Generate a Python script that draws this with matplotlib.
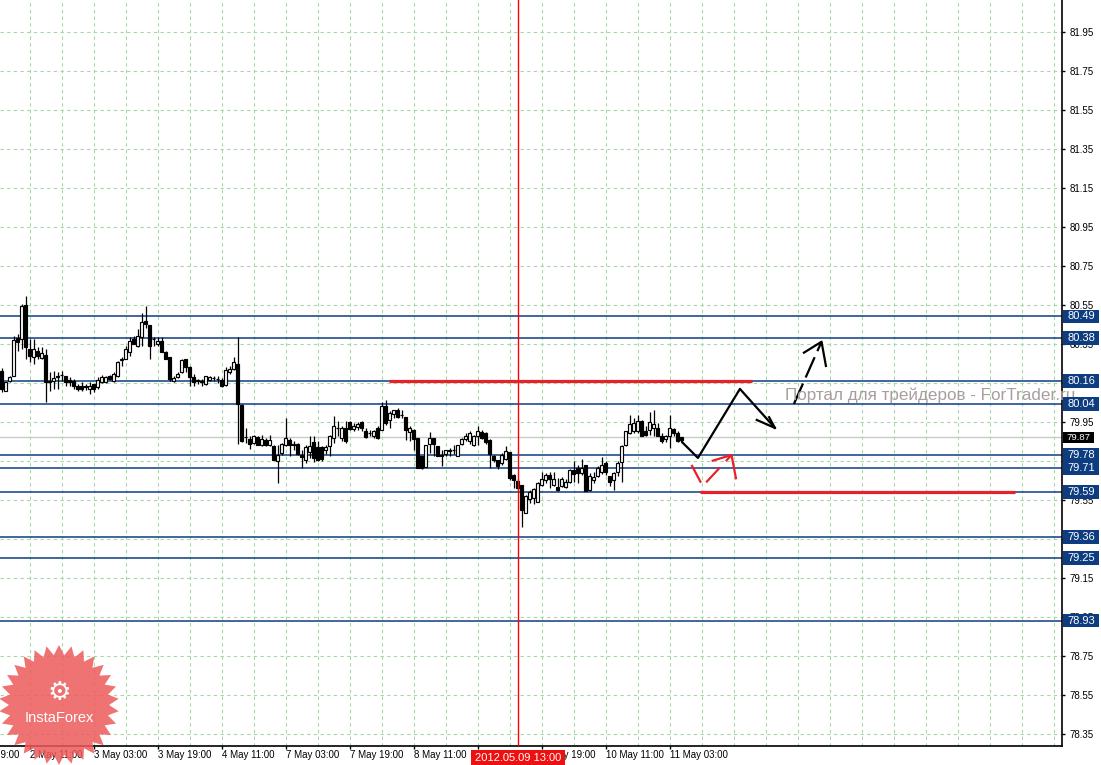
import numpy as np
import matplotlib.pyplot as plt
import matplotlib.transforms as mtransforms
from matplotlib.patches import Polygon, Rectangle

# ---- data (H1 bars, index 0 = 2 May 11:00) ----
first_bar = -7
opens = [
    80.211, 80.108, 80.160, 80.182, 80.377, 80.374, 80.548,
    80.322, 80.280, 80.314, 80.276, 80.292, 80.160, 80.160, 80.182, 80.189, 80.182,
    80.165, 80.160, 80.134, 80.134, 80.131, 80.120, 80.143, 80.126, 80.151, 80.155,
    80.185, 80.160, 80.182, 80.268, 80.274, 80.309, 80.374, 80.339, 80.382, 80.468,
    80.445, 80.376, 80.348, 80.365, 80.305, 80.280, 80.160, 80.177, 80.203, 80.274,
    80.233, 80.177, 80.162, 80.157, 80.143, 80.165, 80.174, 80.170, 80.165, 80.138,
    80.203, 80.220, 80.245, 80.035, 79.871, 79.860, 79.843, 79.869, 79.832, 79.857,
    79.832, 79.823, 79.746, 79.789, 79.832, 79.857, 79.833, 79.837, 79.780, 79.755,
    79.797, 79.844, 79.820, 79.820, 79.806, 79.823, 79.866, 79.918, 79.866, 79.917,
    79.946, 79.912, 79.922, 79.946, 79.900, 79.892, 79.874, 79.917, 79.909, 80.028,
    79.960, 79.991, 80.008, 79.986, 79.973, 79.895, 79.909, 79.866, 79.775, 79.717,
    79.837, 79.866, 79.823, 79.780, 79.785, 79.804, 79.807, 79.775, 79.837, 79.861,
    79.849, 79.832, 79.878, 79.895, 79.891, 79.857, 79.775, 79.751, 79.737, 79.758,
    79.792, 79.677, 79.645, 79.626, 79.484, 79.552, 79.558, 79.540, 79.626, 79.652,
    79.677, 79.626, 79.617, 79.621, 79.614, 79.643, 79.703, 79.712, 79.686, 79.729,
    79.600, 79.652, 79.669, 79.694, 79.737, 79.669, 79.652, 79.694, 79.741, 79.831,
    79.894, 79.900, 79.900, 79.956, 79.900, 79.908, 79.917, 79.917, 79.877, 79.860,
    79.877, 79.912, 79.894, 79.855,
]
highs = [
    80.223, 80.155, 80.182, 80.391, 80.399, 80.553, 80.596,
    80.374, 80.374, 80.331, 80.331, 80.322, 80.203, 80.211, 80.203, 80.211, 80.182,
    80.177, 80.168, 80.143, 80.151, 80.143, 80.155, 80.143, 80.177, 80.189, 80.182,
    80.189, 80.203, 80.262, 80.280, 80.339, 80.382, 80.391, 80.425, 80.510, 80.545,
    80.445, 80.382, 80.382, 80.382, 80.314, 80.280, 80.182, 80.203, 80.271, 80.274,
    80.237, 80.194, 80.168, 80.168, 80.185, 80.182, 80.185, 80.182, 80.172, 80.228,
    80.237, 80.280, 80.382, 80.040, 79.920, 79.878, 79.882, 79.878, 79.883, 79.866,
    79.883, 79.832, 79.832, 79.840, 79.968, 79.866, 79.849, 79.840, 79.806, 79.832,
    79.874, 79.874, 79.849, 79.823, 79.832, 79.883, 79.977, 79.951, 79.926, 79.951,
    79.951, 79.943, 79.946, 79.951, 79.917, 79.909, 79.909, 79.926, 80.049, 80.062,
    80.003, 80.011, 80.020, 80.008, 79.973, 79.926, 79.912, 79.866, 79.775, 79.832,
    79.895, 79.866, 79.823, 79.806, 79.806, 79.815, 79.832, 79.832, 79.866, 79.891,
    79.900, 79.883, 79.926, 79.909, 79.895, 79.861, 79.780, 79.755, 79.790, 79.826,
    79.792, 79.680, 79.655, 79.626, 79.575, 79.600, 79.609, 79.643, 79.694, 79.689,
    79.694, 79.694, 79.660, 79.665, 79.655, 79.706, 79.746, 79.729, 79.758, 79.729,
    79.686, 79.694, 79.724, 79.771, 79.746, 79.669, 79.694, 79.746, 79.831, 79.900,
    79.985, 79.968, 79.985, 79.959, 79.929, 80.002, 80.011, 79.942, 79.891, 79.882,
    79.985, 79.917, 79.900, 79.872,
]
lows = [
    80.100, 80.108, 80.155, 80.182, 80.314, 80.322, 80.271,
    80.254, 80.245, 80.271, 80.271, 80.052, 80.108, 80.117, 80.120, 80.160, 80.134,
    80.134, 80.117, 80.108, 80.108, 80.114, 80.091, 80.103, 80.120, 80.148, 80.148,
    80.165, 80.155, 80.177, 80.237, 80.271, 80.288, 80.348, 80.331, 80.339, 80.433,
    80.271, 80.339, 80.339, 80.305, 80.271, 80.160, 80.155, 80.172, 80.199, 80.203,
    80.131, 80.134, 80.143, 80.134, 80.138, 80.160, 80.160, 80.148, 80.126, 80.134,
    80.194, 80.216, 79.835, 79.847, 79.843, 79.809, 79.835, 79.830, 79.827, 79.823,
    79.823, 79.755, 79.635, 79.780, 79.823, 79.772, 79.806, 79.780, 79.712, 79.738,
    79.763, 79.741, 79.746, 79.746, 79.785, 79.772, 79.840, 79.874, 79.849, 79.840,
    79.909, 79.900, 79.905, 79.900, 79.866, 79.874, 79.866, 79.861, 79.905, 79.934,
    79.917, 79.968, 79.968, 79.968, 79.857, 79.849, 79.806, 79.712, 79.707, 79.717,
    79.789, 79.775, 79.772, 79.724, 79.775, 79.772, 79.785, 79.772, 79.832, 79.849,
    79.837, 79.827, 79.832, 79.861, 79.837, 79.712, 79.741, 79.707, 79.730, 79.754,
    79.652, 79.612, 79.600, 79.412, 79.481, 79.532, 79.528, 79.540, 79.621, 79.635,
    79.609, 79.621, 79.592, 79.614, 79.609, 79.635, 79.643, 79.635, 79.677, 79.592,
    79.597, 79.635, 79.665, 79.682, 79.677, 79.621, 79.600, 79.669, 79.643, 79.823,
    79.888, 79.891, 79.891, 79.874, 79.877, 79.882, 79.874, 79.874, 79.843, 79.848,
    79.814, 79.874, 79.848, 79.840,
]
closes = [
    80.117, 80.155, 80.177, 80.370, 80.360, 80.545, 80.331,
    80.288, 80.322, 80.288, 80.302, 80.151, 80.151, 80.172, 80.180, 80.187, 80.151,
    80.155, 80.134, 80.117, 80.117, 80.129, 80.134, 80.120, 80.165, 80.177, 80.177,
    80.168, 80.194, 80.254, 80.272, 80.322, 80.365, 80.348, 80.391, 80.459, 80.451,
    80.339, 80.372, 80.365, 80.305, 80.271, 80.168, 80.172, 80.194, 80.268, 80.228,
    80.177, 80.155, 80.160, 80.155, 80.182, 80.177, 80.172, 80.168, 80.131, 80.216,
    80.220, 80.257, 80.040, 79.852, 79.869, 79.835, 79.878, 79.830, 79.861, 79.832,
    79.857, 79.755, 79.780, 79.837, 79.866, 79.832, 79.831, 79.785, 79.768, 79.820,
    79.823, 79.763, 79.755, 79.758, 79.820, 79.878, 79.926, 79.916, 79.917, 79.849,
    79.912, 79.926, 79.939, 79.917, 79.871, 79.890, 79.900, 79.866, 80.032, 79.943,
    79.994, 80.008, 79.973, 79.984, 79.909, 79.917, 79.861, 79.712, 79.712, 79.832,
    79.866, 79.837, 79.775, 79.772, 79.803, 79.802, 79.805, 79.832, 79.861, 79.878,
    79.891, 79.874, 79.900, 79.866, 79.844, 79.785, 79.755, 79.724, 79.780, 79.802,
    79.660, 79.650, 79.612, 79.498, 79.570, 79.587, 79.604, 79.635, 79.655, 79.677,
    79.655, 79.655, 79.600, 79.655, 79.643, 79.703, 79.682, 79.689, 79.712, 79.597,
    79.669, 79.665, 79.712, 79.729, 79.694, 79.643, 79.689, 79.737, 79.826, 79.900,
    79.939, 79.942, 79.951, 79.877, 79.882, 79.946, 79.939, 79.877, 79.853, 79.874,
    79.917, 79.891, 79.853, 79.870,
]

time_tick_bars = [-16, 0, 16, 32, 48, 64, 80, 96, 112, 128, 144, 160]
time_tick_labels = ["1 May 19:00", "2 May 11:00", "3 May 03:00", "3 May 19:00",
                    "4 May 11:00", "7 May 03:00", "7 May 19:00", "8 May 11:00",
                    "9 May 03:00", "9 May 19:00", "10 May 11:00", "11 May 03:00"]
price_ticks = [78.35, 78.55, 78.75, 78.95, 79.15, 79.35, 79.55, 79.75, 79.95,
               80.15, 80.35, 80.55, 80.75, 80.95, 81.15, 81.35, 81.55, 81.75, 81.95]

levels = [80.49, 80.38, 80.16, 80.04, 79.78, 79.71, 79.59, 79.36, 79.25, 78.93]
last_price = 79.87
cursor_bar = 122
cursor_label = "2012.05.09 13:00"

# red horizontal zones: level, first bar, last bar
red_zones = [(80.16, 89.75, 180.5), (79.59, 167.5, 246.25)]

# hand-drawn forecast arrows (bar, price)
main_path_x = [163.0, 163.0, 167.0, 177.5, 186.25]
main_path_y = [79.866, 79.846, 79.764, 80.118, 79.918]
main_head_x = [181.7, 186.25, 184.8]
main_head_y = [79.959, 79.918, 79.973]
up_path_x = [191.0, 197.9]
up_path_y = [80.041, 80.360]
up_head_x = [193.5, 197.9, 199.0]
up_head_y = [80.304, 80.360, 80.236]
red_path_x = [165.4, 168.2, 175.4]
red_path_y = [79.728, 79.620, 79.779]
red_head_x = [170.7, 175.4, 176.5]
red_head_y = [79.750, 79.779, 79.660]

watermark = "Портал для трейдеров - ForTrader.ru"
watermark_pos = (188.75, 80.061)

# ---- figure ----
NAVY = "#0d3d80"
GRID = "#a9d6a9"
FONT = "Liberation Sans"

fig = plt.figure(figsize=(11.01, 7.65), dpi=100)
ax = fig.add_axes([0, 19.5 / 765, 1061.5 / 1101, 745.5 / 765])
ax.set_xlim(-7.5, 257.9)
ax.set_ylim(78.289, 82.113)
ax.set_axisbelow(True)

for side in ["top", "left"]:
    ax.spines[side].set_visible(False)
for side in ["right", "bottom"]:
    ax.spines[side].set_linewidth(1.2)

# grid
ax.set_xticks([t for t in time_tick_bars if t >= 0])
ax.set_xticklabels([])
ax.set_xticks(np.arange(0, 257, 8), minor=True)
ax.xaxis.remove_overlapping_locs = False
ax.tick_params(axis="x", which="major", length=2.5, width=1, direction="out")
ax.tick_params(axis="x", which="minor", length=0)
ax.xaxis.grid(True, which="minor", color=GRID, lw=0.8, ls=(0, (3, 3)))

ax.yaxis.tick_right()
ax.set_yticks(price_ticks)
ax.set_yticklabels([f"{p:.2f}" for p in price_ticks], fontsize=7, family=FONT)
ax.tick_params(axis="y", length=2, width=1, pad=3.5)
ax.yaxis.grid(True, color=GRID, lw=0.8, ls=(0, (3, 3)))

xlab = mtransforms.blended_transform_factory(ax.transData, ax.transAxes)
for b, lab in zip(time_tick_bars, time_tick_labels):
    ax.text(b, -0.0065, lab, transform=xlab, ha="left", va="top",
            fontsize=7, family=FONT, clip_on=False, zorder=1)

# levels
for lvl in levels:
    ax.axhline(lvl, color=NAVY, lw=1.1, zorder=2)
ax.axhline(last_price, color="#c4d0c4", lw=1, zorder=2)

# candles
bars = np.arange(first_bar, first_bar + len(opens))
o = np.array(opens)
c = np.array(closes)
ax.vlines(bars, lows, highs, color="black", lw=0.9, zorder=3)
ax.bar(bars, np.abs(c - o), bottom=np.minimum(o, c), width=0.75,
       color=np.where(c >= o, "white", "black"), edgecolor="black",
       linewidth=0.85, zorder=4)

# cursor line + red zones
ax.axvline(cursor_bar, color="red", lw=1, zorder=5)
for lvl, b0, b1 in red_zones:
    ax.plot([b0, b1], [lvl, lvl], color="#e8202a", lw=2.3, zorder=5,
            solid_capstyle="butt")

# forecast arrows
ax.plot(main_path_x, main_path_y, color="black", lw=1.6, zorder=6)
ax.plot(main_head_x, main_head_y, color="black", lw=1.6, zorder=6)
ax.plot(up_path_x, up_path_y, color="black", lw=1.6, zorder=6, dashes=(10, 3))
ax.plot(up_head_x, up_head_y, color="black", lw=1.6, zorder=6)
ax.plot(red_path_x, red_path_y, color="#e8202a", lw=1.6, zorder=6, dashes=(9, 4))
ax.plot(red_head_x, red_head_y, color="#e8202a", lw=1.6, zorder=6)

# watermark
ax.text(*watermark_pos, watermark, fontsize=12.3, family=FONT, color="#a89e9e",
        ha="left", va="baseline", clip_on=False, zorder=7)

# level labels on price axis
ylab = mtransforms.blended_transform_factory(ax.transAxes, ax.transData)
box_w = 36 / 1061.5
for lvl in levels:
    ax.add_patch(Rectangle((1.0015, lvl - 0.035), box_w, 0.07, transform=ylab,
                           facecolor=NAVY, edgecolor="none", clip_on=False, zorder=8))
    ax.text(1.0015 + box_w / 2, lvl, f"{lvl:.2f}", transform=ylab, color="white",
            fontsize=8, family=FONT, ha="center", va="center", clip_on=False, zorder=9)
ax.add_patch(Rectangle((1.0015, last_price - 0.027), 31 / 1061.5, 0.054, transform=ylab,
                       facecolor="black", edgecolor="none", clip_on=False, zorder=8))
ax.text(1.0015 + 15.5 / 1061.5, last_price, f"{last_price:.2f}", transform=ylab,
        color="white", fontsize=6.8, family=FONT, ha="center", va="center",
        clip_on=False, zorder=9)

# cursor time label
ax.add_patch(Rectangle((cursor_bar - 11.75, -0.0265), 23.5, 0.0205, transform=xlab,
                       facecolor="#ee1010", edgecolor="none", clip_on=False, zorder=8))
ax.text(cursor_bar, -0.0162, cursor_label, transform=xlab, color="white",
        fontsize=8, family=FONT, ha="center", va="center", clip_on=False, zorder=9)

# InstaForex badge
logo = fig.add_axes([-2 / 1101, -1 / 765, 122 / 1101, 122 / 765])
logo.set_xlim(-61, 61)
logo.set_ylim(-61, 61)
logo.axis("off")
n_spikes = 30
ang = np.linspace(0, 2 * np.pi, 2 * n_spikes, endpoint=False) + np.pi / 2
rad = np.where(np.arange(2 * n_spikes) % 2 == 0, 60, 50)
logo.add_patch(Polygon(np.column_stack([rad * np.cos(ang), rad * np.sin(ang)]),
                       closed=True, facecolor="#ee5a5a", alpha=0.85, edgecolor="none"))
logo.text(0, 12, "\u2699", fontsize=19, color="white", ha="center", va="center",
          family="DejaVu Sans")
logo.text(0, -13, "InstaForex", fontsize=10.5, color="white", ha="center",
          va="center", family=FONT)

fig.savefig("out.png", dpi=100, facecolor="white")
